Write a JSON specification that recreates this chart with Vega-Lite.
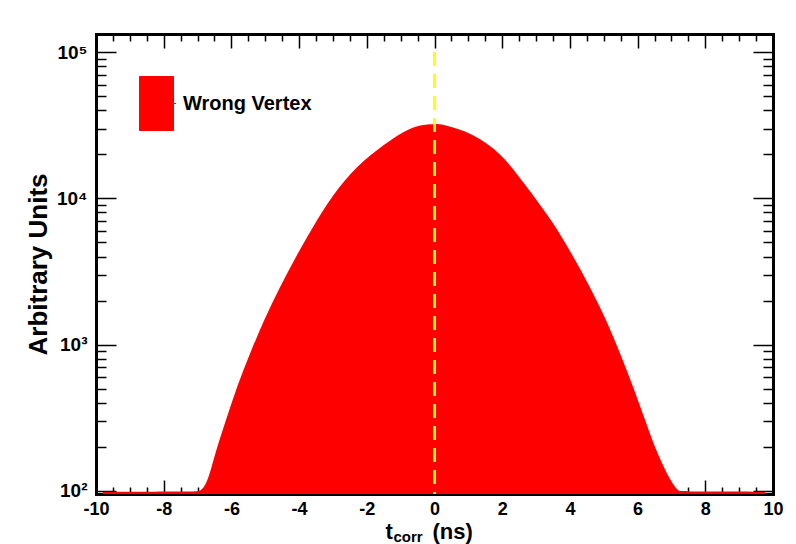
{
  "$schema": "https://vega.github.io/schema/vega-lite/v6.json",
  "width": 677,
  "height": 460,
  "autosize": {"type": "none"},
  "padding": {"left": 96, "top": 34, "right": 23, "bottom": 50},
  "background": "white",
  "config": {
    "view": {"stroke": null},
    "font": "Liberation Sans",
    "axis": {
      "labelFont": "Liberation Sans",
      "labelFontWeight": "bold",
      "labelColor": "#000",
      "titleFont": "Liberation Sans",
      "titleFontWeight": "bold",
      "titleColor": "#000",
      "tickColor": "#000",
      "tickWidth": 1.5,
      "domainColor": "#000",
      "domainWidth": 3,
      "domainCap": "square",
      "grid": false,
      "zindex": 1,
      "labelOverlap": false,
      "labelFlush": false
    }
  },
  "data": {
    "values": [
      {"t": -9.8, "n": 98.5},
      {"t": -7.0, "n": 98.5},
      {"t": -6.93, "n": 100},
      {"t": -6.78, "n": 107},
      {"t": -6.63, "n": 132},
      {"t": -6.48, "n": 181},
      {"t": -6.16, "n": 305},
      {"t": -5.84, "n": 515},
      {"t": -5.45, "n": 871},
      {"t": -5.04, "n": 1470},
      {"t": -4.56, "n": 2490},
      {"t": -4.04, "n": 4210},
      {"t": -3.48, "n": 7110},
      {"t": -2.84, "n": 12000},
      {"t": -2.1, "n": 18300},
      {"t": -1.31, "n": 25000},
      {"t": -0.82, "n": 29300},
      {"t": -0.43, "n": 31800},
      {"t": 0.0, "n": 32300},
      {"t": 0.26, "n": 32000},
      {"t": 1.14, "n": 27800},
      {"t": 1.98, "n": 20300},
      {"t": 2.72, "n": 12000},
      {"t": 3.46, "n": 7100},
      {"t": 4.05, "n": 4200},
      {"t": 4.59, "n": 2490},
      {"t": 5.08, "n": 1470},
      {"t": 5.48, "n": 870},
      {"t": 5.87, "n": 515},
      {"t": 6.22, "n": 305},
      {"t": 6.57, "n": 181},
      {"t": 6.96, "n": 118},
      {"t": 7.19, "n": 100},
      {"t": 7.25, "n": 99.5},
      {"t": 7.5, "n": 99.5},
      {"t": 7.55, "n": 98.5},
      {"t": 9.76, "n": 98.5}
    ]
  },
  "layer": [
    {
      "mark": {"type": "area", "interpolate": "basis", "clip": true},
      "encoding": {
        "x": {
          "field": "t",
          "type": "quantitative",
          "scale": {"domain": [-10, 10], "nice": false, "zero": false},
          "axis": {
            "orient": "bottom",
            "values": [-10, -8, -6, -4, -2, 0, 2, 4, 6, 8, 10],
            "labelExpr": "'' + datum.value",
            "labelFontSize": 18,
            "tickSize": -14,
            "labelPadding": 20,
            "title": "t",
            "titleFontSize": 22,
            "titleX": 289,
            "titleY": 44,
            "titleAlign": "left",
            "titleBaseline": "alphabetic"
          }
        },
        "y": {
          "field": "n",
          "type": "quantitative",
          "scale": {"type": "log", "domain": [95, 133000], "nice": false},
          "axis": {
            "orient": "left",
            "values": [100, 1000, 10000, 100000],
            "labelExpr": "datum.value === 100 ? '10²' : datum.value === 1000 ? '10³' : datum.value === 10000 ? '10⁴' : '10⁵'",
            "labelFontSize": 19,
            "tickSize": -20,
            "labelPadding": 29,
            "title": "Arbitrary Units",
            "titleFontSize": 26,
            "titleX": -58,
            "titleY": 230,
            "titleAngle": -90,
            "titleAlign": "center",
            "titleBaseline": "middle"
          }
        },
        "y2": {"datum": 95},
        "color": {
          "datum": "Wrong Vertex",
          "type": "nominal",
          "scale": {"range": ["#ff0000"]},
          "legend": {
            "title": null,
            "orient": "none",
            "legendX": 33,
            "legendY": 42,
            "padding": 0,
            "symbolType": "M-0.63,-1H0.63V1H-0.63Z M0.63,0H0.72",
            "symbolSize": 2916,
            "symbolStrokeColor": "#ff0000",
            "symbolStrokeWidth": 1,
            "symbolOffset": 0,
            "labelFont": "Liberation Sans",
            "labelFontWeight": "bold",
            "labelFontSize": 20,
            "labelColor": "#000",
            "labelOffset": -1
          }
        }
      }
    },
    {
      "mark": {"type": "rule", "color": "#ffff00", "strokeWidth": 3, "strokeDash": [14, 8]},
      "encoding": {
        "x": {
          "datum": 0,
          "type": "quantitative",
          "axis": {
            "orient": "top",
            "values": [-10, -8, -6, -4, -2, 0, 2, 4, 6, 8, 10],
            "tickSize": -14,
            "labels": false,
            "title": null
          }
        },
        "y": {
          "datum": 100000,
          "type": "quantitative",
          "axis": {
            "orient": "right",
            "values": [100, 1000, 10000, 100000],
            "tickSize": -20,
            "labels": false,
            "title": null
          }
        },
        "y2": {"datum": 95}
      }
    },
    {
      "mark": {"type": "point", "opacity": 0},
      "encoding": {
        "x": {
          "field": "t",
          "type": "quantitative",
          "axis": {
            "orient": "bottom",
            "values": [-9.5, -9, -8.5, -7.5, -7, -6.5, -5.5, -5, -4.5, -3.5, -3, -2.5, -1.5, -1, -0.5, 0.5, 1, 1.5, 2.5, 3, 3.5, 4.5, 5, 5.5, 6.5, 7, 7.5, 8.5, 9, 9.5],
            "tickSize": -7,
            "domain": false,
            "labels": false,
            "title": "corr",
            "titleFontSize": 15,
            "titleX": 297,
            "titleY": 47,
            "titleAlign": "left",
            "titleBaseline": "alphabetic"
          }
        },
        "y": {
          "field": "n",
          "type": "quantitative",
          "axis": {
            "orient": "left",
            "values": [200, 300, 400, 500, 600, 700, 800, 900, 2000, 3000, 4000, 5000, 6000, 7000, 8000, 9000, 20000, 30000, 40000, 50000, 60000, 70000, 80000, 90000],
            "tickSize": -10,
            "domain": false,
            "labels": false,
            "title": null
          }
        }
      }
    },
    {
      "mark": {"type": "point", "opacity": 0},
      "encoding": {
        "x": {
          "field": "t",
          "type": "quantitative",
          "axis": {
            "orient": "top",
            "values": [-9.5, -9, -8.5, -7.5, -7, -6.5, -5.5, -5, -4.5, -3.5, -3, -2.5, -1.5, -1, -0.5, 0.5, 1, 1.5, 2.5, 3, 3.5, 4.5, 5, 5.5, 6.5, 7, 7.5, 8.5, 9, 9.5],
            "tickSize": -7,
            "domain": false,
            "labels": false,
            "title": null
          }
        },
        "y": {
          "field": "n",
          "type": "quantitative",
          "axis": {
            "orient": "right",
            "values": [200, 300, 400, 500, 600, 700, 800, 900, 2000, 3000, 4000, 5000, 6000, 7000, 8000, 9000, 20000, 30000, 40000, 50000, 60000, 70000, 80000, 90000],
            "tickSize": -10,
            "domain": false,
            "labels": false,
            "title": null
          }
        }
      }
    },
    {
      "mark": {"type": "point", "opacity": 0},
      "encoding": {
        "x": {
          "field": "t",
          "type": "quantitative",
          "axis": {
            "orient": "bottom",
            "domain": false,
            "ticks": false,
            "labels": false,
            "title": "(ns)",
            "titleFontSize": 22,
            "titleX": 336,
            "titleY": 44,
            "titleAlign": "left",
            "titleBaseline": "alphabetic"
          }
        },
        "y": {"field": "n", "type": "quantitative", "axis": null}
      }
    }
  ],
  "resolve": {"axis": {"x": "independent", "y": "independent"}}
}
